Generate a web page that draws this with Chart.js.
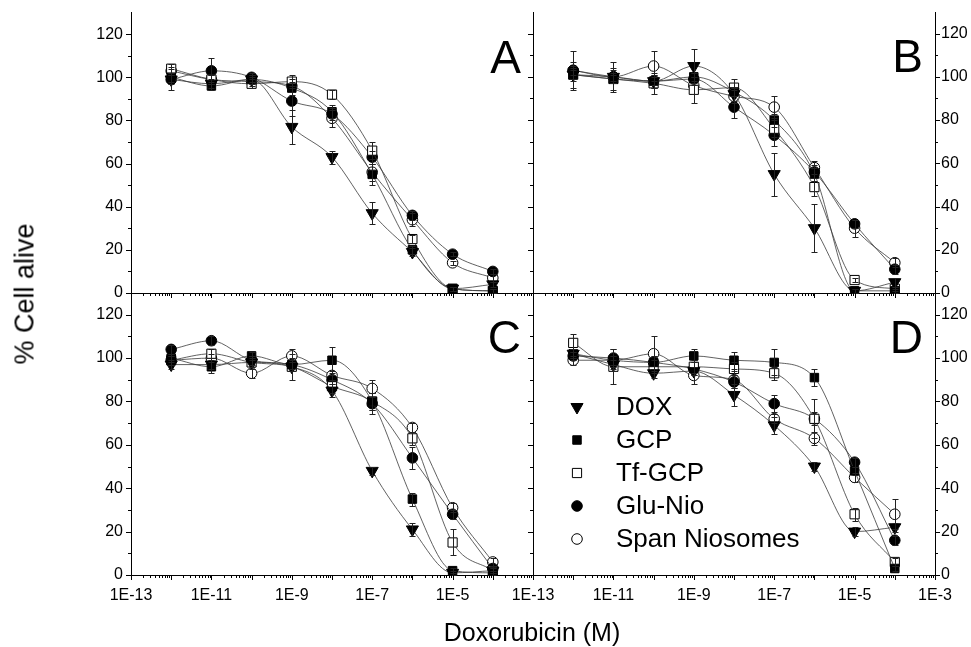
<!DOCTYPE html>
<html>
<head>
<meta charset="utf-8">
<script src="https://cdn.jsdelivr.net/npm/chart.js@4.4.1/dist/chart.umd.min.js"></script>
<style>
  html, body { margin: 0; padding: 0; background: #fff; }
  #wrap { position: relative; width: 971px; height: 647px; overflow: hidden; font-family: 'Liberation Sans', Arial, sans-serif; color: #000; }
  #wrap canvas { position: absolute; left: 0; top: 0; }
  .ytitle { position: absolute; left: 25px; top: 294px; font-size: 27px; line-height: 27px; white-space: nowrap;
            transform: translate(-50%, -50%) rotate(-90deg); }
  .xtitle { position: absolute; left: 532px; top: 620px; font-size: 25px; line-height: 25px; white-space: nowrap;
            transform: translateX(-50%); }
</style>
</head>
<body>
<div id="wrap">
  <canvas id="panelA" width="971" height="647"></canvas>
  <canvas id="panelB" width="971" height="647"></canvas>
  <canvas id="panelC" width="971" height="647"></canvas>
  <canvas id="panelD" width="971" height="647"></canvas>
  <div class="ytitle">% Cell alive</div>
  <div class="xtitle">Doxorubicin (M)</div>
</div>
<script>
// doxorubicin concentrations (M)
const concentrations = [1e-12, 1e-11, 1e-10, 1e-9, 1e-8, 1e-7, 1e-6, 1e-5, 1e-4];
const seriesNames = ['DOX', 'GCP', 'Tf-GCP', 'Glu-Nio', 'Span Niosomes'];
const yTicks = [0, 20, 40, 60, 80, 100, 120];
const xTickExpLeft = [-13, -11, -9, -7, -5];
const xTickExpRight = [-13, -11, -9, -7, -5, -3];

// Panel A
const doxA  = [99, 97, 99, 77, 63, 37, 19, 2, 4];
const gcpA  = [100, 96, 99, 95, 84, 55, 20, 2, 1];
const tfA   = [104, 99, 97, 98, 92, 66, 25, 2, 1];
const gluA  = [99, 103, 100, 89, 83, 63, 36, 18, 10];
const spanA = [103, 99, 98, 96, 81, 56, 34, 14, 7];
const doxAErr  = [2, 2, 2, 8, 3, 5, 2, 1, 1];
const gcpAErr  = [2, 2, 2, 3, 3, 5, 2, 1, 1];
const tfAErr   = [2, 2, 2, 3, 2, 4, 2, 1, 1];
const gluAErr  = [5, 6, 2, 7, 3, 3, 2, 1, 1];
const spanAErr = [2, 2, 2, 3, 4, 4, 3, 1, 2];

// Panel B
const doxB  = [101, 100, 98, 105, 92, 55, 30, 1, 5];
const gcpB  = [101, 99, 98, 100, 93, 80, 55, 1, 1];
const tfB   = [101, 99, 97, 94, 95, 76, 49, 6, 2];
const gluB  = [103, 100, 98, 99, 86, 73, 56, 32, 11];
const spanB = [103, 100, 105, 96, 91, 86, 58, 30, 14];
const doxBErr  = [3, 3, 3, 8, 3, 10, 11, 1, 2];
const gcpBErr  = [2, 2, 3, 2, 2, 3, 3, 1, 1];
const tfBErr   = [6, 5, 5, 6, 4, 4, 4, 1, 1];
const gluBErr  = [2, 2, 2, 3, 5, 5, 3, 2, 2];
const spanBErr = [9, 7, 7, 4, 3, 5, 3, 4, 2];

// Panel C
const doxC  = [97, 97, 98, 96, 85, 48, 21, 1, 2];
const gcpC  = [100, 96, 101, 97, 99, 80, 35, 2, 1];
const tfC   = [99, 102, 98, 96, 87, 80, 63, 15, 2];
const gluC  = [104, 108, 99, 97, 90, 79, 54, 28, 3];
const spanC = [99, 100, 93, 101, 92, 86, 68, 31, 6];
const doxCErr  = [2, 2, 2, 2, 3, 2, 3, 1, 1];
const gcpCErr  = [2, 3, 2, 3, 6, 4, 3, 1, 1];
const tfCErr   = [2, 2, 3, 6, 3, 4, 3, 6, 1];
const gluCErr  = [2, 2, 2, 2, 2, 5, 5, 2, 1];
const spanCErr = [2, 2, 2, 3, 2, 4, 2, 2, 2];

// Panel D
const doxD  = [102, 97, 93, 94, 83, 69, 50, 20, 22];
const gcpD  = [102, 99, 98, 101, 99, 98, 91, 48, 3];
const tfD   = [107, 96, 96, 96, 95, 93, 72, 28, 6];
const gluD  = [101, 100, 98, 95, 89, 79, 72, 52, 16];
const spanD = [99, 99, 102, 92, 90, 72, 63, 45, 28];
const doxDErr  = [2, 2, 2, 2, 5, 4, 2, 2, 2];
const gcpDErr  = [2, 2, 3, 3, 4, 6, 4, 2, 1];
const tfDErr   = [4, 8, 3, 3, 3, 3, 9, 3, 2];
const gluDErr  = [2, 4, 3, 3, 3, 4, 3, 2, 2];
const spanDErr = [2, 2, 8, 4, 4, 2, 3, 2, 7];

const FONT = "'Liberation Sans', Arial, sans-serif";
Chart.defaults.font.family = FONT;
Chart.defaults.color = '#000';

const markerStyle = [
    { pointStyle: 'triangle', rotation: 180, radius: 7, fill: '#000' },
    { pointStyle: 'rect', rotation: 0, radius: 6, fill: '#000' },
    { pointStyle: 'rect', rotation: 0, radius: 6.5, fill: '#fff' },
    { pointStyle: 'circle', rotation: 0, radius: 5.3, fill: '#000' },
    { pointStyle: 'circle', rotation: 0, radius: 5.3, fill: '#fff' },
];

function makeDatasets(values, errors) {
    return values.map((vals, i) => ({
        label: seriesNames[i],
        data: vals.map((v, j) => ({ x: concentrations[j], y: v })),
        errors: errors[i],
        borderColor: '#3a3a3a',
        borderWidth: 0.8,
        pointStyle: markerStyle[i].pointStyle,
        pointRotation: markerStyle[i].rotation,
        pointRadius: markerStyle[i].radius,
        pointBackgroundColor: markerStyle[i].fill,
        pointBorderColor: '#000',
        pointBorderWidth: 1,
        fill: false,
        cubicInterpolationMode: 'monotone',
    }));
}

// error bars with caps
const errorBarPlugin = {
    id: 'errorBars',
    afterDatasetsDraw(chart) {
        const ctx = chart.ctx;
        const yScale = chart.scales.y;
        ctx.save();
        ctx.strokeStyle = '#222';
        ctx.lineWidth = 1;
        chart.data.datasets.forEach((ds, di) => {
            const meta = chart.getDatasetMeta(di);
            meta.data.forEach((pt, j) => {
                const e = ds.errors[j];
                if (!e) return;
                const v = ds.data[j].y;
                const x = Math.round(pt.x) + 0.5;
                const yTop = Math.round(yScale.getPixelForValue(v + e)) + 0.5;
                const yBot = Math.round(yScale.getPixelForValue(Math.max(0, v - e))) + 0.5;
                ctx.beginPath();
                ctx.moveTo(x, yTop); ctx.lineTo(x, yBot);
                ctx.moveTo(x - 3, yTop); ctx.lineTo(x + 3, yTop);
                ctx.moveTo(x - 3, yBot); ctx.lineTo(x + 3, yBot);
                ctx.stroke();
            });
        });
        ctx.restore();
    }
};

// tick marks, frame line, panel letter
const panelPlugin = {
    id: 'panelDeco',
    afterDraw(chart, args, opts) {
        const { ctx, chartArea: a, scales: { x, y } } = chart;
        ctx.save();
        ctx.strokeStyle = '#000';
        ctx.lineWidth = 1;
        ctx.beginPath();
        for (let e = -13; e <= -3; e++) {
            for (let k = 1; k <= 9; k++) {
                if (e === -3 && k > 1) break;
                const px = Math.round(x.getPixelForValue(k * Math.pow(10, e))) + 0.5;
                const len = k === 1 ? 5 : 3;
                ctx.moveTo(px, a.bottom);
                ctx.lineTo(px, a.bottom + len);
            }
        }
        for (let v = 0; v <= 120; v += 10) {
            const py = Math.round(y.getPixelForValue(v)) + 0.5;
            const len = v % 20 === 0 ? 5 : 3;
            if (opts.side === 'left') {
                ctx.moveTo(a.left - len, py); ctx.lineTo(a.left, py);
            } else {
                ctx.moveTo(a.right, py); ctx.lineTo(a.right + len, py);
                ctx.moveTo(a.left - len, py); ctx.lineTo(a.left, py);
            }
        }
        if (opts.side === 'right') {
            const lx = Math.round(a.left) + 0.5;
            ctx.moveTo(lx, a.top); ctx.lineTo(lx, a.bottom);
        }
        ctx.stroke();

        ctx.fillStyle = '#000';
        ctx.font = '46px ' + FONT;
        ctx.textAlign = 'right';
        ctx.textBaseline = 'alphabetic';
        ctx.fillText(opts.letter, a.right - 12, a.top + 60);
        ctx.restore();
    }
};

// legend drawn inside panel D
const insideLegendPlugin = {
    id: 'insideLegend',
    afterDraw(chart, args, opts) {
        if (!opts.show) return;
        const ctx = chart.ctx;
        ctx.save();
        ctx.font = '26px ' + FONT;
        ctx.textAlign = 'left';
        ctx.textBaseline = 'middle';
        chart.data.datasets.forEach((ds, i) => {
            const yy = opts.top + i * opts.rowHeight;
            ctx.fillStyle = ds.pointBackgroundColor;
            ctx.strokeStyle = '#000';
            ctx.lineWidth = 1;
            Chart.helpers.drawPoint(ctx, {
                pointStyle: ds.pointStyle, rotation: ds.pointRotation,
                radius: ds.pointRadius, borderWidth: 1
            }, opts.left, yy);
            ctx.fillStyle = '#000';
            ctx.fillText(ds.label, opts.left + 39, yy + 1);
        });
        ctx.restore();
    }
};

function buildPanel(canvasId, panel) {
    const ctx = document.getElementById(canvasId).getContext('2d');
    return new Chart(ctx, {
        type: 'line',
        data: { datasets: makeDatasets(panel.values, panel.errors) },
        options: {
            responsive: false,
            animation: false,
            events: [],
            layout: { padding: panel.padding },
            plugins: {
                legend: { display: false },
                tooltip: { enabled: false },
                panelDeco: { letter: panel.letter, side: panel.side },
                insideLegend: { show: !!panel.legend, left: 577, top: 407, rowHeight: 33 },
            },
            scales: {
                x: {
                    type: 'logarithmic',
                    position: 'bottom',
                    min: 1e-13,
                    max: 1e-3,
                    afterBuildTicks: s => { s.ticks = panel.xTicks.map(e => ({ value: Math.pow(10, e) })); },
                    afterFit: s => { s.height = panel.showX ? 30 : 0; },
                    grid: { display: false, tickLength: 8 },
                    border: { display: true, color: '#000', width: 1 },
                    ticks: {
                        display: panel.showX,
                        autoSkip: false,
                        maxRotation: 0,
                        padding: 3,
                        color: '#000',
                        font: { size: 16 },
                        callback: v => '1E' + Math.round(Math.log10(v)),
                    },
                },
                y: {
                    position: panel.side,
                    min: 0,
                    max: 130,
                    afterBuildTicks: s => { s.ticks = yTicks.map(v => ({ value: v })); },
                    afterFit: s => { s.width = panel.side === 'left' ? 40 : 36; },
                    grid: { display: false, tickLength: 5 },
                    border: { display: true, color: '#000', width: 1 },
                    ticks: {
                        padding: panel.side === 'left' ? 3 : 1,
                        color: '#000',
                        font: { size: 16 },
                    },
                },
            },
        },
        plugins: [errorBarPlugin, panelPlugin, insideLegendPlugin],
    });
}

buildPanel('panelA', {
    letter: 'A', side: 'left', showX: false, xTicks: xTickExpLeft,
    padding: { left: 91, right: 438, top: 12, bottom: 354 },
    values: [doxA, gcpA, tfA, gluA, spanA],
    errors: [doxAErr, gcpAErr, tfAErr, gluAErr, spanAErr],
});
buildPanel('panelB', {
    letter: 'B', side: 'right', showX: false, xTicks: xTickExpRight,
    padding: { left: 533, right: 0, top: 12, bottom: 354 },
    values: [doxB, gcpB, tfB, gluB, spanB],
    errors: [doxBErr, gcpBErr, tfBErr, gluBErr, spanBErr],
});
buildPanel('panelC', {
    letter: 'C', side: 'left', showX: true, xTicks: xTickExpLeft,
    padding: { left: 91, right: 438, top: 293, bottom: 42 },
    values: [doxC, gcpC, tfC, gluC, spanC],
    errors: [doxCErr, gcpCErr, tfCErr, gluCErr, spanCErr],
});
buildPanel('panelD', {
    letter: 'D', side: 'right', showX: true, xTicks: xTickExpRight, legend: true,
    padding: { left: 533, right: 0, top: 293, bottom: 42 },
    values: [doxD, gcpD, tfD, gluD, spanD],
    errors: [doxDErr, gcpDErr, tfDErr, gluDErr, spanDErr],
});
</script>
</body>
</html>
